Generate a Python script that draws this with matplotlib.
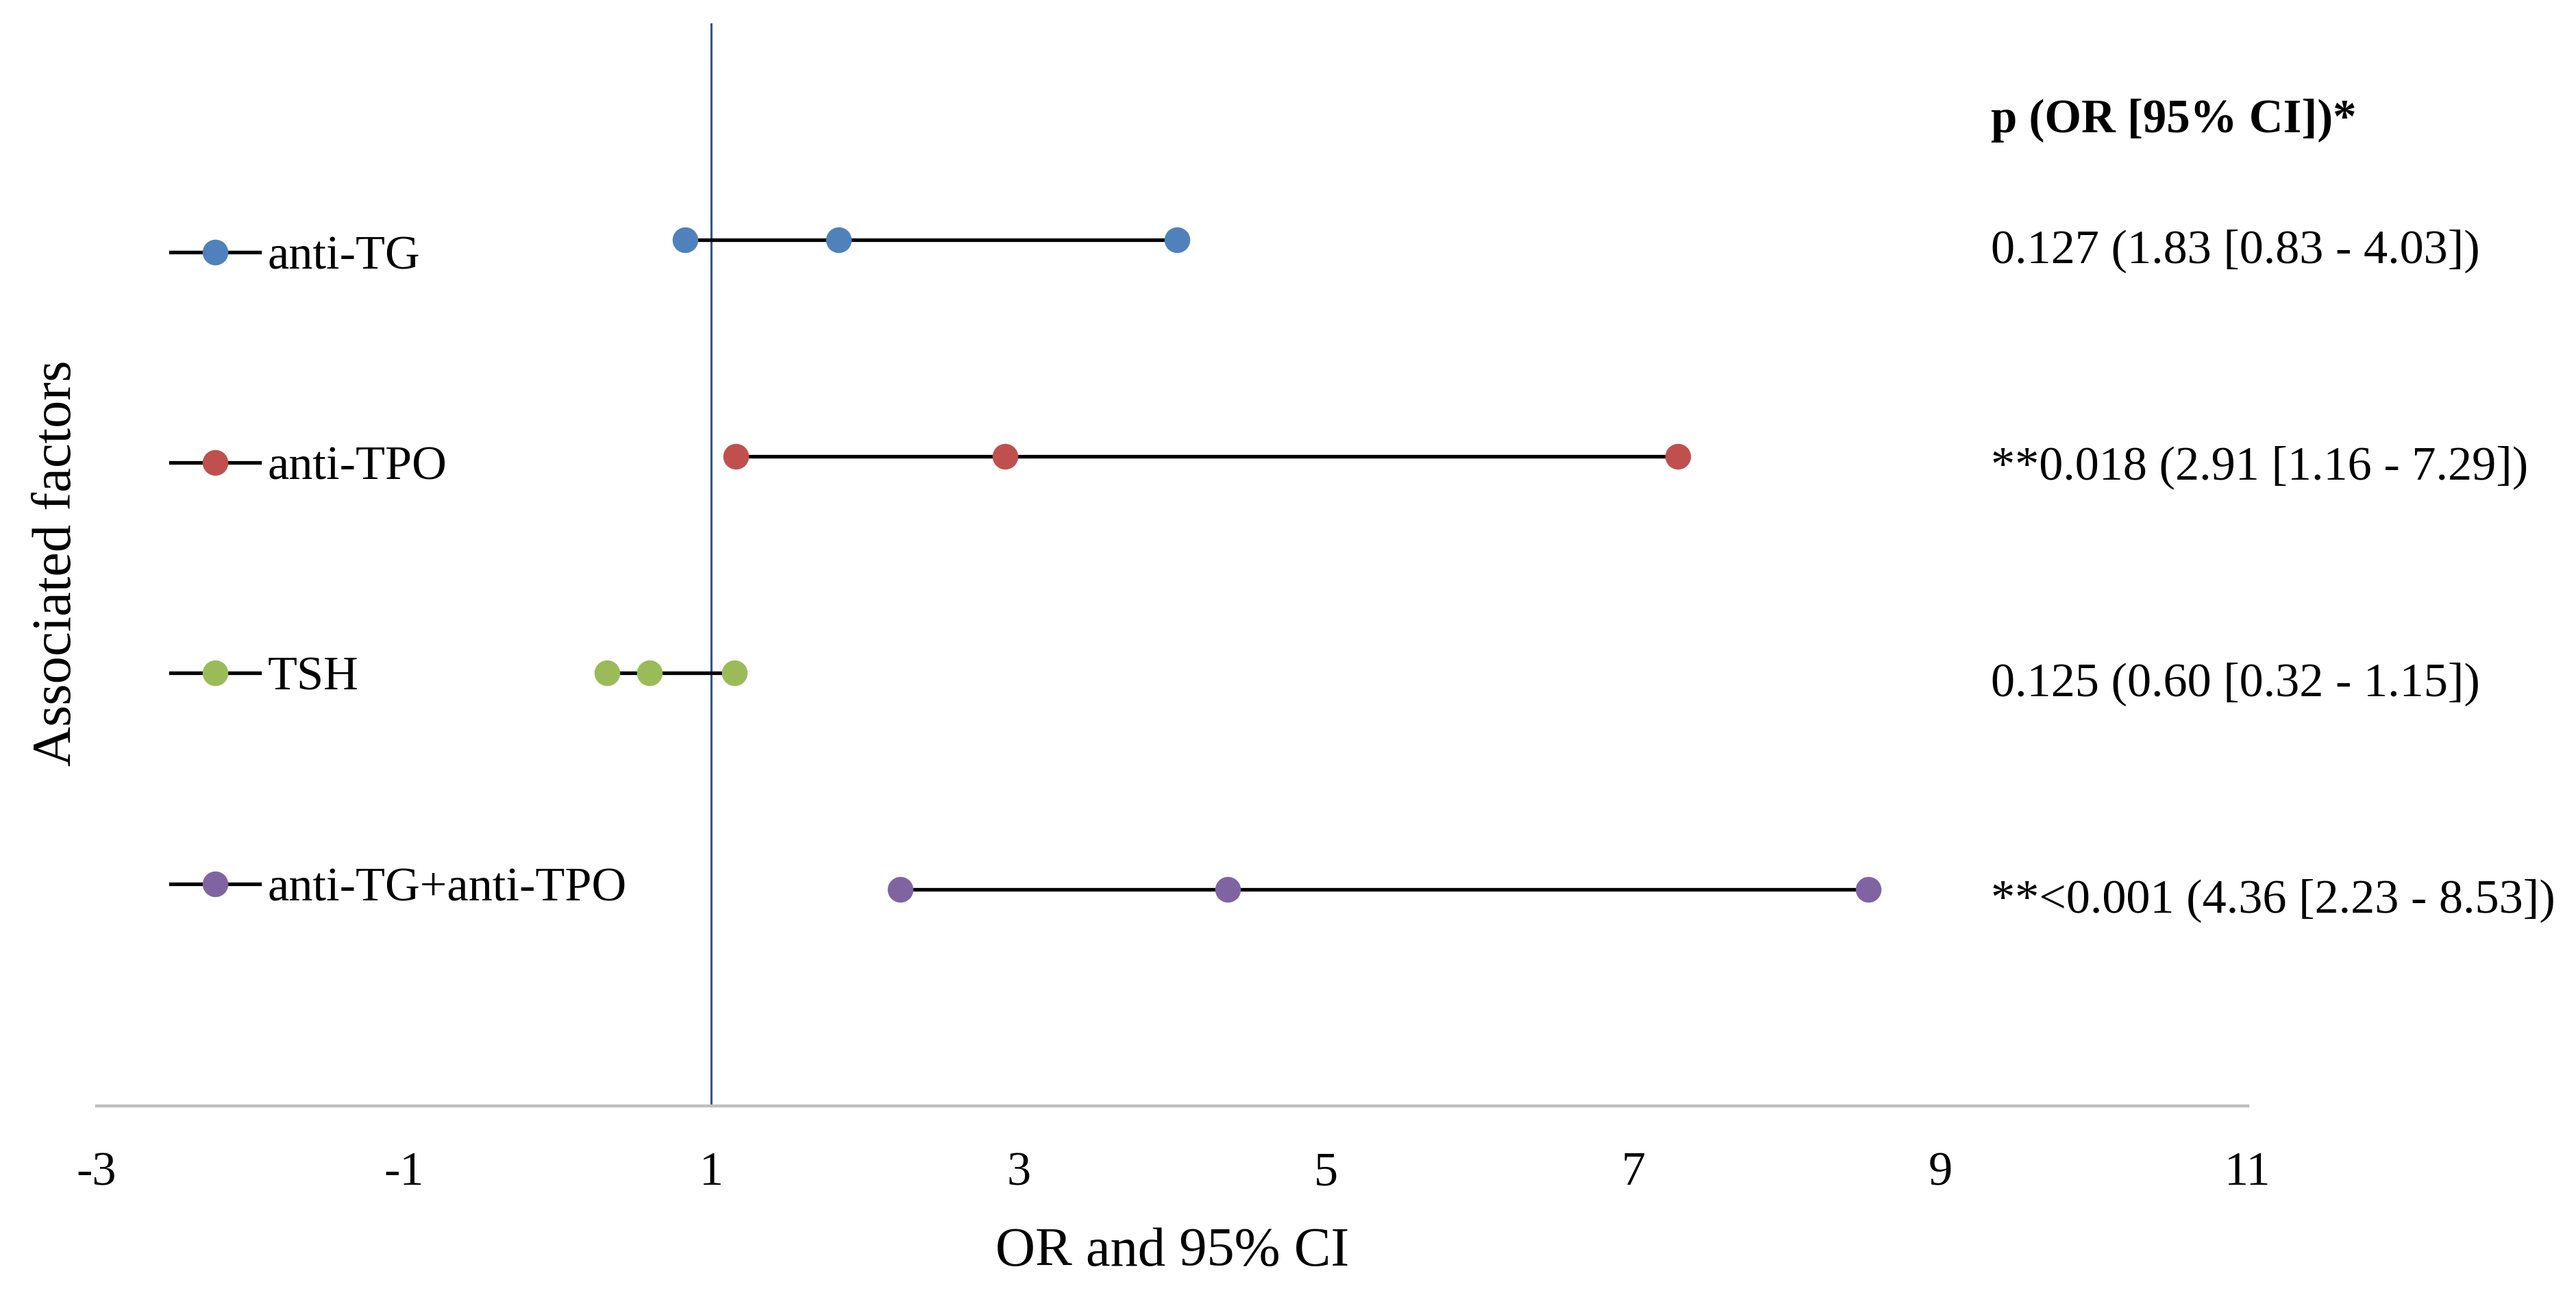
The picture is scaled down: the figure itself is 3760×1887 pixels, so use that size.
import matplotlib
matplotlib.use("Agg")
import matplotlib.pyplot as plt
from matplotlib.lines import Line2D
from matplotlib import transforms

plt.rcParams['font.family'] = ['Liberation Serif', 'DejaVu Serif']

factors = ["anti-TG", "anti-TPO", "TSH", "anti-TG+anti-TPO"]
odds_ratio = [1.83, 2.91, 0.60, 4.36]
ci_lower = [0.83, 1.16, 0.32, 2.23]
ci_upper = [4.03, 7.29, 1.15, 8.53]
p_labels = ["0.127 (1.83 [0.83 - 4.03])",
            "**0.018 (2.91 [1.16 - 7.29])",
            "0.125 (0.60 [0.32 - 1.15])",
            "**<0.001 (4.36 [2.23 - 8.53])"]
header = "p (OR [95% CI])*"
row_y = [4, 3, 2, 1]
colors = ["#4F81BD", "#C0504D", "#9BBB59", "#8064A2"]
x_ticks = [-3, -1, 1, 3, 5, 7, 9, 11]

W, H, DPI = 3760, 1887, 200
fig = plt.figure(figsize=(W / DPI, H / DPI), dpi=DPI)
ax = fig.add_axes([141 / W, 1 - 1614 / H, (3281 - 141) / W, (1614 - 34) / H])

FS = 25.3
FS_LAB = 29
for i, name in enumerate(factors):
    xs = [ci_lower[i], odds_ratio[i], ci_upper[i]]
    ys = [row_y[i]] * 3
    ax.plot(xs, ys, color='black', lw=1.9, zorder=2)
    ax.plot(xs, ys, linestyle='none', marker='o', markersize=12.5,
            markerfacecolor=colors[i], markeredgecolor=colors[i], zorder=3)

ax.axvline(1, color='#2F5597', lw=1.1, zorder=1)

ax.set_xlim(-3, 11)
ax.set_ylim(0, 5)
ax.set_xticks(x_ticks)
ax.set_xticklabels([str(t) for t in x_ticks], fontsize=FS)
ax.set_yticks([])
ax.tick_params(axis='x', length=0, pad=24)
for s in ['top', 'right', 'left']:
    ax.spines[s].set_visible(False)
ax.spines['bottom'].set_color('#BFBFBF')
ax.spines['bottom'].set_linewidth(1.6)

ax.set_xlabel("OR and 95% CI", fontsize=FS_LAB, labelpad=17)
fig.text(84 / W, 1 - 822 / H, "Associated factors", rotation=90,
         fontsize=FS_LAB, ha='center', va='center')

# right-side annotations
trans = transforms.blended_transform_factory(fig.transFigure, ax.transData)
ax.text(2906 / W, 4.55, header, transform=trans, fontsize=FS - 0.5,
        fontweight='bold', ha='left', va='center', clip_on=False)
for i, lab in enumerate(p_labels):
    ax.text(2906 / W, row_y[i] - 0.05, lab, transform=trans, fontsize=FS,
            ha='left', va='center', clip_on=False)

handles = [Line2D([0], [0], color='black', lw=1.9, marker='o', markersize=12.5,
                  markerfacecolor=c, markeredgecolor=c) for c in colors]
ax.legend(handles, factors, loc='upper left', bbox_to_anchor=(249 / W, 1 - 343 / H),
          bbox_transform=fig.transFigure, frameon=False, fontsize=FS,
          handlelength=1.85, handletextpad=0.17, labelspacing=3.46,
          borderpad=0, borderaxespad=0)

fig.savefig("out.png", dpi=DPI, facecolor='white')
